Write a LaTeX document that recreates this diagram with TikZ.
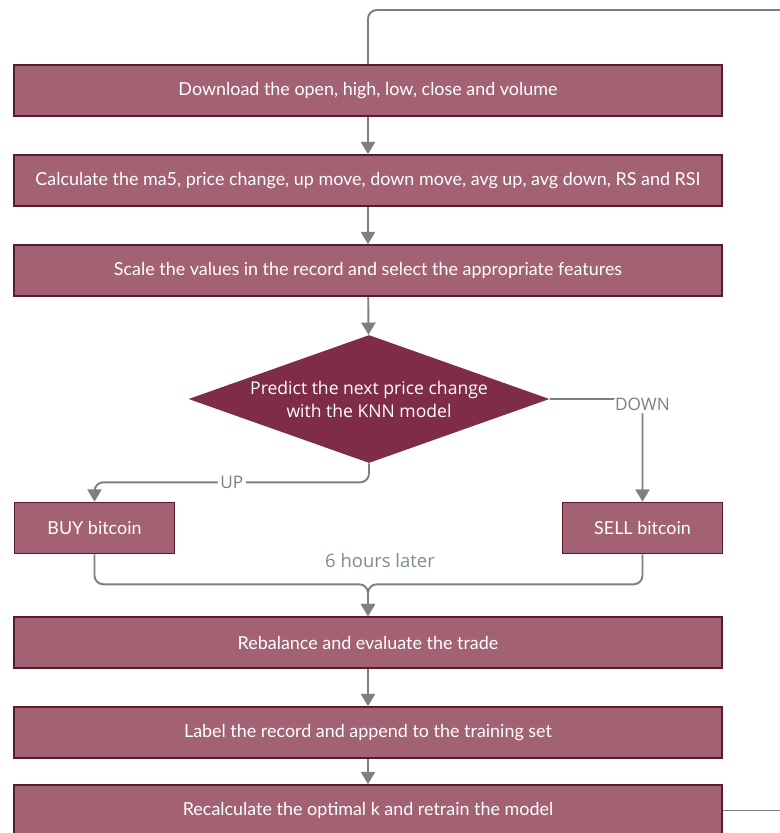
\documentclass[tikz,border=0pt]{standalone}
\usepackage{fontspec}
\setmainfont{Lato}
\newfontfamily\opensans{Open Sans}
\usetikzlibrary{arrows.meta,shapes.geometric}

\definecolor{boxfill}{HTML}{A36174}
\definecolor{boxline}{HTML}{5C1A30}
\definecolor{decfill}{HTML}{7F2C48}
\definecolor{flowgray}{HTML}{7F7F7F}
\definecolor{notegray}{HTML}{7D8A96}

\tikzset{
  stepbox/.style={rectangle, draw=boxline, line width=0.9pt, fill=boxfill, text=white,
    font=\fontsize{10.2}{12}\selectfont, minimum height=1.02cm, inner sep=0pt},
  widebox/.style={stepbox, minimum width=14.16cm},
  smallbox/.style={stepbox, minimum width=3.2cm},
  decision/.style={diamond, aspect=2.8, fill=decfill, text=white, align=center,
    font=\opensans\fontsize{10}{13}\selectfont, minimum width=7.22cm, minimum height=2.56cm, inner sep=0pt},
  flow/.style={draw=flowgray, line width=1.1pt, rounded corners=5pt, -{Triangle[width=8pt,length=7pt]}},
  loopline/.style={draw=flowgray, line width=1.1pt, rounded corners=5pt},
  caselabel/.style={fill=white, text=flowgray, font=\opensans\fontsize{9.8}{11}\selectfont, inner sep=1.5pt}
}

\begin{document}
\begin{tikzpicture}[x=0.02cm, y=-0.02cm]
  \useasboundingbox (0,0) rectangle (780,833);

  % steps before the prediction
  \node[widebox] (download) at (368,90.5) {Download the open, high, low, close and volume};
  \node[widebox] (calc) at (368,180.5) {Calculate the ma5, price change, up move, down move, avg up, avg down, RS and RSI};
  \node[widebox] (scale) at (368,270.5) {Scale the values in the record and select the appropriate features};
  \node[decision] (predict) at (369,399) {Predict the next price change\\with the KNN model};

  % trade
  \node[smallbox] (buy) at (94.5,528) {BUY bitcoin};
  \node[smallbox] (sell) at (642.5,528) {SELL bitcoin};
  \node[text=notegray, font=\opensans\fontsize{10.5}{12}\selectfont] (later) at (380,561) {6 hours later};

  % steps after the trade
  \node[widebox] (rebal) at (368,642.5) {Rebalance and evaluate the trade};
  \node[widebox] (label) at (368,732.5) {Label the record and append to the training set};
  \node[widebox] (recalc) at (368,810.5) {Recalculate the optimal k and retrain the model};

  \draw[flow] (download) -- (calc);
  \draw[flow] (calc) -- (scale);
  \draw[flow] (scale) -- (predict);
  \draw[flow] (predict.east) -| node[caselabel, pos=0.5, yshift=-3pt]{DOWN} (sell.north);
  \draw[flow] (predict.south) -- ++(0,19) -| node[caselabel, pos=0.25]{UP} (buy.north);
  \draw[flow] (buy.south) -- ++(0,30) -| (rebal.north);
  \draw[flow] (sell.south) -- ++(0,30) -| (rebal.north);
  \draw[flow] (rebal) -- (label);
  \draw[flow] (label) -- (recalc);

  % loop back to the top
  \draw[loopline] (recalc.east) -- (800,810.5);
  \draw[loopline] (download.north) |- (800,10);
\end{tikzpicture}
\end{document}
